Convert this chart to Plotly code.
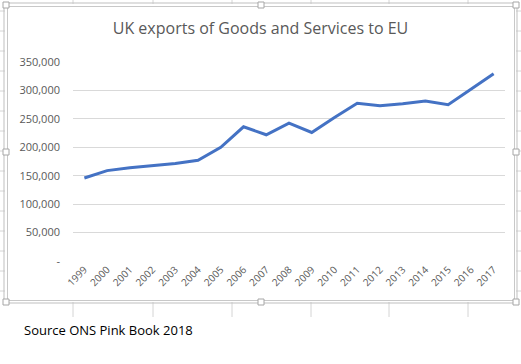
import plotly.graph_objects as go

years = [str(y) for y in range(1999, 2018)]
exports = [146000, 159000, 164000, 167500, 171500, 177000, 200000, 236000, 222000,
           242500, 226000, 252500, 277500, 273000, 276500, 281500, 275000, 302000, 329500]
y_tickvals = [0, 50000, 100000, 150000, 200000, 250000, 300000, 350000]
y_ticktext = ["-", "50,000", "100,000", "150,000", "200,000", "250,000", "300,000", "350,000"]
title_text = "UK exports of Goods and Services to EU"
source_text = "Source ONS Pink Book 2018"

W, H = 521, 364
L, R, T, B = 73, 16, 62, 103
PW, PH = W - L - R, H - T - B

def px(x):
    return (x - L) / PW

def py(y):
    return (H - B - y) / PH

fig = go.Figure()
fig.add_trace(go.Scatter(x=years, y=exports, mode="lines",
                         line=dict(color="#4472C4", width=3), hoverinfo="skip"))

shapes = []
grid_col = "#D4D4D4"
# spreadsheet cell grid outside the chart
for x in [73, 153, 232, 311, 389, 468]:
    shapes.append(dict(type="line", xref="paper", yref="paper", x0=px(x), x1=px(x),
                       y0=py(0), y1=py(4), line=dict(color=grid_col, width=1)))
    shapes.append(dict(type="line", xref="paper", yref="paper", x0=px(x), x1=px(x),
                       y0=py(302), y1=py(317), line=dict(color=grid_col, width=1)))
for y in range(11, 300, 20):
    shapes.append(dict(type="line", xref="paper", yref="paper", x0=px(0), x1=px(5),
                       y0=py(y), y1=py(y), line=dict(color=grid_col, width=1)))
    shapes.append(dict(type="line", xref="paper", yref="paper", x0=px(516), x1=px(521),
                       y0=py(y), y1=py(y), line=dict(color=grid_col, width=1)))
# chart border (selected)
shapes.append(dict(type="rect", xref="paper", yref="paper", x0=px(4), x1=px(517),
                   y0=py(3), y1=py(303), line=dict(color="#BFBFBF", width=1)))
shapes.append(dict(type="rect", xref="paper", yref="paper", x0=px(7.5), x1=px(514.5),
                   y0=py(6.5), y1=py(300.5), line=dict(color="#C8C8C8", width=1)))
# handles
for hx, hy in [(6, 5), (261, 5), (516, 5), (6, 152), (516, 152), (6, 302), (261, 302), (516, 302)]:
    shapes.append(dict(type="rect", xref="paper", yref="paper", x0=px(hx - 3), x1=px(hx + 3),
                       y0=py(hy - 3), y1=py(hy + 3), fillcolor="white",
                       line=dict(color="#A6A6A6", width=1)))

fig.update_layout(
    width=W, height=H,
    margin=dict(l=L, r=R, t=T, b=B, autoexpand=False),
    paper_bgcolor="white", plot_bgcolor="white",
    showlegend=False,
    title=dict(text=title_text, x=0.5, xref="container", xanchor="center",
               y=1 - 28 / H, yanchor="middle",
               font=dict(family="Open Sans", size=16, color="#595959")),
    xaxis=dict(type="category", showgrid=False, zeroline=False, showline=False,
               automargin=False, tickangle=-45, ticks="",
               tickfont=dict(family="Open Sans", size=10, color="#595959"),
               range=[-0.5, 18.5]),
    yaxis=dict(range=[0, 350000], tickvals=y_tickvals, ticktext=y_ticktext,
               automargin=False,
               showgrid=True, gridcolor="#D9D9D9", gridwidth=1, zeroline=False,
               showline=False, ticks="", ticklabelstandoff=12,
               tickfont=dict(family="Open Sans", size=11, color="#595959")),
    shapes=shapes,
    annotations=[dict(text=source_text, xref="paper", yref="paper", x=px(22), y=py(330),
                      xanchor="left", yanchor="middle", showarrow=False,
                      font=dict(family="Open Sans", size=13, color="#000000"))],
)
fig.write_html("out.html", config={"displayModeBar": False},
               post_script="document.body.style.margin='0';")
